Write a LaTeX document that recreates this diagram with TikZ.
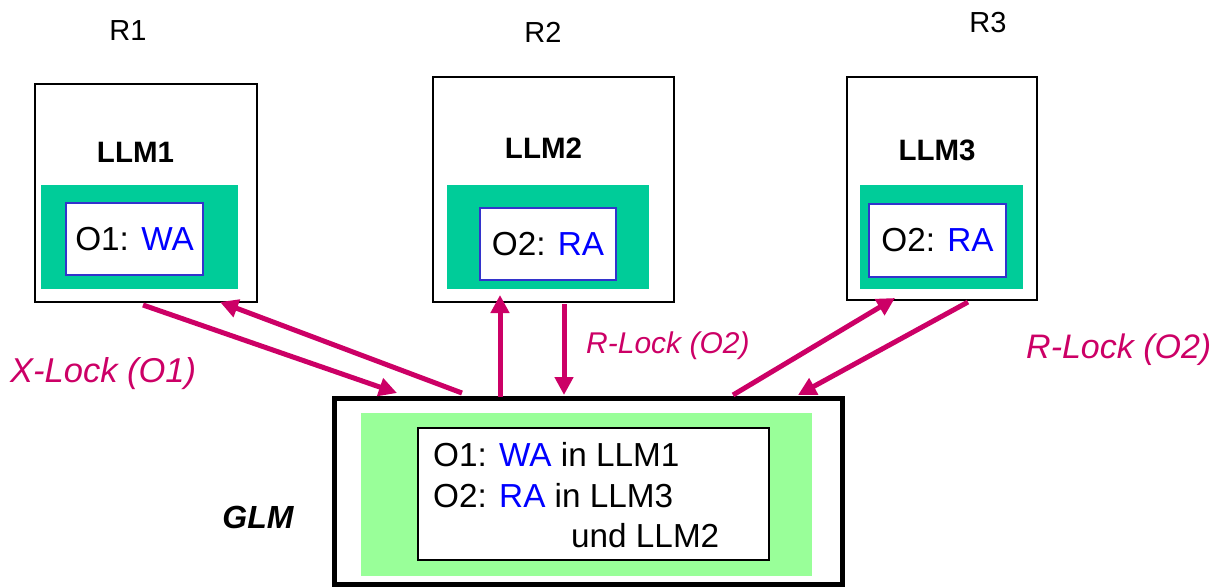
\documentclass[tikz,border=0pt]{standalone}
\usepackage{fontspec}
\setmainfont{Liberation Sans}
\usetikzlibrary{arrows.meta}
\definecolor{teal1}{HTML}{00CC99}
\definecolor{lgreen}{HTML}{99FF99}
\definecolor{mag}{HTML}{CC0066}
\definecolor{bluetxt}{HTML}{0000FF}
\definecolor{bluebrd}{HTML}{3333CC}
\tikzset{
  outerbox/.style={draw=black, line width=1.6pt, fill=white, inner sep=0pt, outer sep=0pt},
  tealbox/.style={fill=teal1, inner sep=0pt, outer sep=0pt},
  objbox/.style={draw=bluebrd, line width=1.6pt, fill=white, inner sep=0pt, outer sep=0pt,
    font=\fontsize{33.3}{40}\selectfont},
  llmlabel/.style={anchor=base, inner sep=0pt, font=\fontsize{29.5}{34}\selectfont\bfseries},
  rlabel/.style={anchor=base, inner sep=0pt, font=\fontsize{29}{34}\selectfont},
  locklabel/.style={anchor=base west, inner sep=0pt, text=mag, font=\itshape},
  glmline/.style={anchor=base west, inner sep=0pt, font=\fontsize{33.3}{40}\selectfont},
  lockarrow/.style={draw=mag, line width=5pt, -{Triangle[length=18pt,width=18pt]}}
}
\newcommand{\bl}[1]{\textcolor{bluetxt}{#1}}
\begin{document}
\begin{tikzpicture}[x=1pt,y=-1pt]
\useasboundingbox (0,0) rectangle (1226,587);

% R labels
\node[rlabel] (r1) at (128,40) {R1};
\node[rlabel] (r2) at (543,42) {R2};
\node[rlabel] (r3) at (988,32) {R3};

% LLM1
\node[outerbox, minimum width=222pt, minimum height=218pt] (llm1) at (146,193) {};
\node[llmlabel] (llm1t) at (135.5,162) {LLM1};
\node[tealbox, minimum width=197pt, minimum height=104pt] (t1) at (139.5,237) {};
\node[objbox, minimum width=137pt, minimum height=72pt] (o1) at (134.5,239) {O1: \bl{WA}};

% LLM2
\node[outerbox, minimum width=241pt, minimum height=225pt] (llm2) at (553.5,189.5) {};
\node[llmlabel] (llm2t) at (543.5,158) {LLM2};
\node[tealbox, minimum width=202pt, minimum height=104pt] (t2) at (548,237) {};
\node[objbox, minimum width=136pt, minimum height=72pt] (o2) at (548,244) {O2: \bl{RA}};

% LLM3
\node[outerbox, minimum width=190pt, minimum height=223pt] (llm3) at (942,188.5) {};
\node[llmlabel] (llm3t) at (937,160) {LLM3};
\node[tealbox, minimum width=163pt, minimum height=104pt] (t3) at (941.5,237) {};
\node[objbox, minimum width=137pt, minimum height=73pt] (o3) at (937.5,240.5) {O2: \bl{RA}};

% GLM
\node[draw=black, line width=5pt, fill=white, inner sep=0pt, outer sep=0pt,
      minimum width=508pt, minimum height=186pt] (glm) at (588,491) {};
\node[fill=lgreen, inner sep=0pt, outer sep=0pt, minimum width=451pt, minimum height=163pt] (glmg) at (586.5,494.5) {};
\node[draw=black, line width=1.6pt, fill=white, inner sep=0pt, outer sep=0pt,
      minimum width=351pt, minimum height=132pt] (glmi) at (593.5,494) {};
\node[glmline] (g1) at (433,466) {O1: \bl{WA} in LLM1};
\node[glmline] (g2) at (433,507) {O2: \bl{RA} in LLM3};
\node[glmline] (g3) at (571,547) {und LLM2};
\node[anchor=base, inner sep=0pt, font=\fontsize{32}{38}\selectfont\bfseries\itshape] (glmt) at (258,528) {GLM};

% lock labels
\node[locklabel, font=\fontsize{34.5}{40}\selectfont\itshape] (xl) at (10,382) {X-Lock (O1)};
\node[locklabel, font=\fontsize{30}{36}\selectfont\itshape] (rl2) at (586,353) {R-Lock (O2)};
\node[locklabel, font=\fontsize{34}{40}\selectfont\itshape] (rl3) at (1026,358) {R-Lock (O2)};

% arrow end points
\coordinate (a1s) at (143,305);
\coordinate (a1e) at (397,393);
\coordinate (a2s) at (462,393);
\coordinate (a2e) at (220,302);
\coordinate (a3s) at (500,397);
\coordinate (a3e) at (500,295);
\coordinate (a4s) at (564,304);
\coordinate (a4e) at (564,395);
\coordinate (a5s) at (733,395);
\coordinate (a5e) at (895,298);
\coordinate (a6s) at (968,302);
\coordinate (a6e) at (798,395);

\draw[lockarrow] (a1s) -- (a1e);
\draw[lockarrow] (a2s) -- (a2e);
\draw[lockarrow] (a3s) -- (a3e);
\draw[lockarrow] (a4s) -- (a4e);
\draw[lockarrow] (a5s) -- (a5e);
\draw[lockarrow] (a6s) -- (a6e);
\end{tikzpicture}
\end{document}
